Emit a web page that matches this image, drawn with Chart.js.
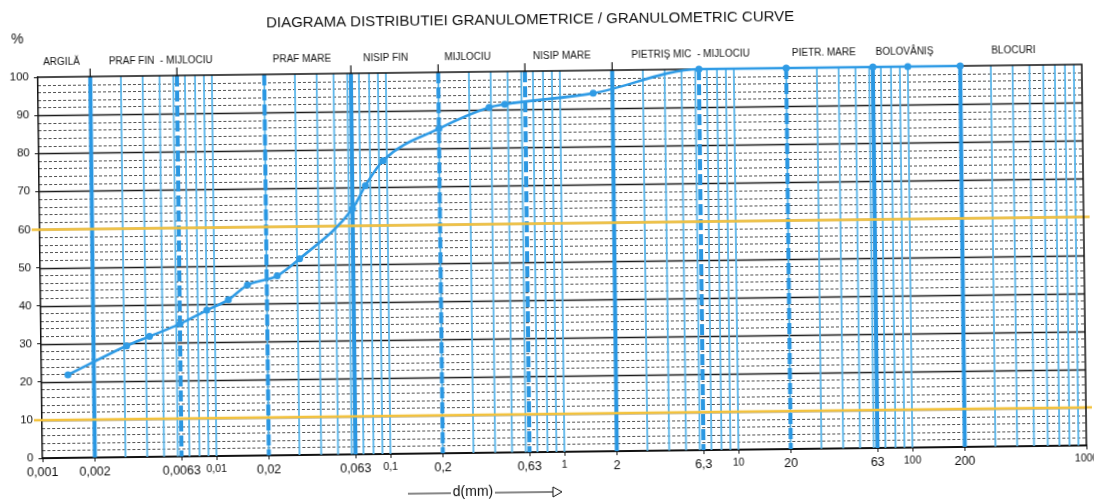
<!DOCTYPE html>
<html>
<head>
<meta charset="utf-8">
<script src="https://cdn.jsdelivr.net/npm/chart.js@4.4.1/dist/chart.umd.min.js"></script>
<style>
  html, body { margin: 0; padding: 0; background: #fff; overflow: hidden; }
  /* the original is a slightly crooked scan */
  #wrap { width: 1094px; height: 503px; transform: rotate(-0.7deg); transform-origin: 547px 251px; }
</style>
</head>
<body>
<div id="wrap"><canvas id="gc" width="1094" height="503"></canvas></div>
<script>
// ── Data ──────────────────────────────────────────────────────────────
const sizeMm = [0.00142, 0.0031, 0.0042, 0.0063, 0.009, 0.012, 0.0155, 0.023, 0.031,
  0.063, 0.075, 0.095, 0.2, 0.39, 0.48, 1.55, 6.3, 20, 63, 100, 200];
const passingPct = [21.8, 29.2, 31.6, 34.8, 38.3, 41, 44.8, 47.1, 51.5,
  64.5, 70.5, 77, 85.2, 90.6, 91.4, 94, 100, 100, 100, 100, 100];

const xTicks = [0.001, 0.002, 0.0063, 0.01, 0.02, 0.063, 0.1, 0.2, 0.63, 1, 2, 6.3, 10, 20, 63, 100, 200, 1000];
const xTickLabels = ["0,001", "0,002", "0,0063", "0,01", "0,02", "0,063", "0,1", "0,2", "0,63",
  "1", "2", "6,3", "10", "20", "63", "100", "200", "1000"];
const smallTicks = [0.01, 0.1, 1, 10, 100, 1000];

// fraction names along the top, and the diameter each one is centred on
const zoneLabels = ["ARGILĂ", "PRAF FIN  - MIJLOCIU", "PRAF MARE", "NISIP FIN", "MIJLOCIU",
  "NISIP MARE", "PIETRIŞ MIC  - MIJLOCIU", "PIETR. MARE", "BOLOVÂNIŞ", "BLOCURI"];
const zoneCentres = [0.00137, 0.0051, 0.033, 0.1, 0.296, 1.03, 5.66, 33, 96, 406];

const solidBounds = [0.002, 0.063, 2, 63, 200];
const dashedBounds = [0.0063, 0.02, 0.2, 0.63, 6.3, 20];
const topMarks = [0.002, 0.0063, 0.063, 0.2, 0.63, 2];
const limitLines = [10, 60];

const FONT = "'Liberation Sans', Arial, sans-serif";
const BLUE = "#2f9be5";
const THIN = "#5cb6ea";

// ── Printed form: grid, boundaries, frame ─────────────────────────────
const formGrid = {
  id: "formGrid",
  beforeDatasetsDraw(chart) {
    const { ctx, chartArea: a, scales: { x, y } } = chart;
    ctx.save();
    const hline = (v, color, w, dash) => {
      const py = Math.round(y.getPixelForValue(v)) + 0.5;
      ctx.beginPath();
      ctx.setLineDash(dash || []);
      ctx.strokeStyle = color;
      ctx.lineWidth = w;
      ctx.moveTo(a.left, py);
      ctx.lineTo(a.right, py);
      ctx.stroke();
    };
    const vline = (v, color, w, dash) => {
      const px = x.getPixelForValue(v);
      ctx.beginPath();
      ctx.setLineDash(dash || []);
      ctx.strokeStyle = color;
      ctx.lineWidth = w;
      ctx.moveTo(px, a.top);
      ctx.lineTo(px, a.bottom);
      ctx.stroke();
    };
    // dotted rows every 2 %, black rules every 10 %
    for (let v = 2; v < 100; v += 2) if (v % 10) hline(v, "rgba(0,0,0,0.68)", 1, [3, 2]);
    for (let v = 10; v < 100; v += 10) hline(v, "#1a1a1a", 1.3);
    // thin log lines, 1..9 per decade
    for (let k = -3; k <= 2; k++) {
      for (let m = 1; m <= 9; m++) {
        const v = m * Math.pow(10, k);
        if (k === -3 && m === 1) continue;
        vline(v, THIN, 1.8);
      }
    }
    dashedBounds.forEach((v) => vline(v, "#2a97e2", 4, [11, 4]));
    solidBounds.forEach((v) => vline(v, "#2a97e2", 4));
    // yellow limit lines
    limitLines.forEach((v) => {
      const py = y.getPixelForValue(v);
      ctx.beginPath();
      ctx.setLineDash([]);
      ctx.strokeStyle = "#f3c23c";
      ctx.lineWidth = 2.5;
      ctx.moveTo(a.left - 8, py);
      ctx.lineTo(a.right + 6, py);
      ctx.stroke();
    });
    // top and right frame
    ctx.setLineDash([]);
    ctx.strokeStyle = "#111";
    ctx.lineWidth = 1.5;
    ctx.beginPath();
    ctx.moveTo(a.left, a.top);
    ctx.lineTo(a.right, a.top);
    ctx.lineTo(a.right, a.bottom);
    ctx.stroke();
    ctx.lineWidth = 1.2;
    topMarks.forEach((v) => {
      const px = x.getPixelForValue(v);
      ctx.beginPath();
      ctx.moveTo(px, a.top);
      ctx.lineTo(px, a.top - 8);
      ctx.stroke();
    });
    ctx.restore();
  },
  afterDraw(chart) {
    const { ctx, chartArea: a, scales: { x } } = chart;
    ctx.save();
    ctx.fillStyle = "#111";
    ctx.textBaseline = "middle";
    ctx.textAlign = "center";
    ctx.font = "15px " + FONT;
    ctx.fillText("DIAGRAMA DISTRIBUTIEI GRANULOMETRICE / GRANULOMETRIC CURVE", 533, 20);
    ctx.font = "14px " + FONT;
    ctx.fillText("%", 20, 33);
    ctx.font = "10px " + FONT;
    zoneLabels.forEach((t, i) => ctx.fillText(t, x.getPixelForValue(zoneCentres[i]), a.top - 15));
    // axis name with arrow
    const cx = 470, cy = 491;
    ctx.font = "14px " + FONT;
    ctx.fillText("d(mm)", cx, cy);
    ctx.strokeStyle = "#111";
    ctx.lineWidth = 1;
    ctx.beginPath();
    ctx.moveTo(cx - 65, cy + 1);
    ctx.lineTo(cx - 22, cy + 1);
    ctx.moveTo(cx + 22, cy + 1);
    ctx.lineTo(cx + 80, cy + 1);
    ctx.stroke();
    ctx.beginPath();
    ctx.moveTo(cx + 80, cy - 4);
    ctx.lineTo(cx + 89, cy + 1);
    ctx.lineTo(cx + 80, cy + 6);
    ctx.closePath();
    ctx.stroke();
    ctx.restore();
  },
};

new Chart(document.getElementById("gc"), {
  type: "line",
  data: {
    datasets: [
      {
        data: sizeMm.map((d, i) => ({ x: d, y: passingPct[i] })),
        borderColor: BLUE,
        backgroundColor: BLUE,
        borderWidth: 2.6,
        pointRadius: 3.5,
        pointBackgroundColor: BLUE,
        pointBorderWidth: 0,
        cubicInterpolationMode: "monotone",
        fill: false,
        clip: false,
      },
    ],
  },
  options: {
    responsive: false,
    animation: false,
    devicePixelRatio: 1,
    layout: { padding: { top: 71, right: 10, left: 0, bottom: 0 } },
    plugins: { legend: { display: false }, tooltip: { enabled: false } },
    scales: {
      x: {
        type: "logarithmic",
        min: 0.001,
        max: 1000,
        afterBuildTicks: (s) => {
          s.ticks = xTicks.map((v) => ({ value: v }));
        },
        afterFit: (s) => {
          s.height = 51;
          s.paddingLeft = 0;
          s.paddingRight = 0;
        },
        ticks: {
          autoSkip: false,
          maxRotation: 0,
          padding: 3,
          color: "#111",
          font: (c) => ({
            family: FONT,
            size: c.tick && smallTicks.includes(c.tick.value) ? 10.5 : 12.5,
          }),
          callback: (v, i) => xTickLabels[i],
        },
        grid: { drawOnChartArea: false, tickLength: 4, color: "#111" },
        border: { color: "#111", width: 2 },
      },
      y: {
        min: 0,
        max: 100,
        afterFit: (s) => {
          s.width = 40;
        },
        ticks: { stepSize: 10, padding: 5, color: "#111", font: { family: FONT, size: 11.5 } },
        grid: { drawOnChartArea: false, tickLength: 4, color: "#111" },
        border: { color: "#111", width: 1.5 },
      },
    },
  },
  plugins: [formGrid],
});
</script>
</body>
</html>
